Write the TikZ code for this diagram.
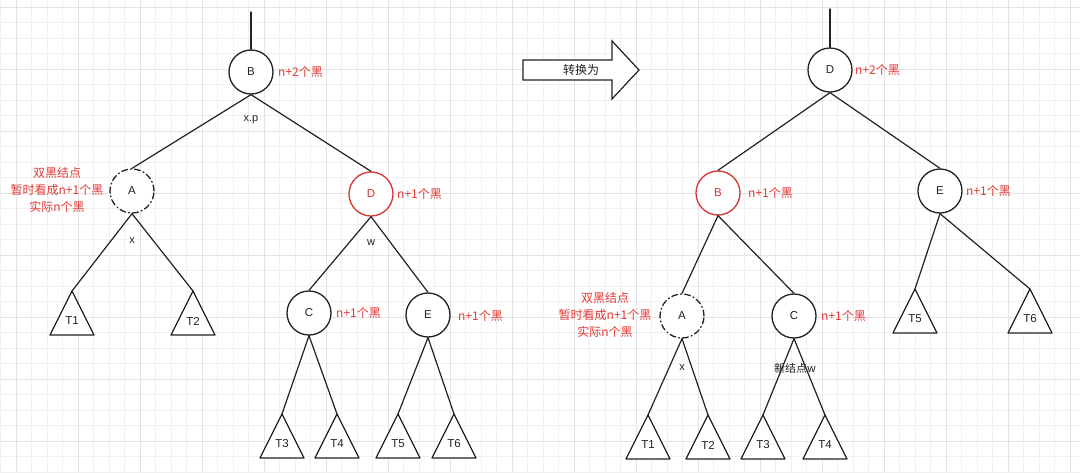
\documentclass[tikz,border=0pt]{standalone}
\usepackage{fontspec}
\setmainfont{Liberation Sans}
\newfontfamily\cjk{Noto Sans CJK SC}
\definecolor{gridminor}{HTML}{F0F0F0}
\definecolor{gridmajor}{HTML}{E3E3E3}
\definecolor{redline}{HTML}{D9342F}
\definecolor{redtext}{HTML}{E53935}
\definecolor{ink}{HTML}{222222}

% subtree triangle: name, apex x, apex y, label
\newcommand\subtri[4]{%
  \coordinate (#1) at (#2,#3);
  \draw[treeline,fill=white] (#1) -- ++(-22,44) -- ++(44,0) -- cycle;
  \node[leaf] (#1l) at (#2,#3+30) {#4};}

\begin{document}
\begin{tikzpicture}[x=1pt,y=-1pt,line cap=round,line join=round,
  treeline/.style={ink,line width=1.2pt},
  bnode/.style={circle,draw=ink,line width=1.3pt,fill=white,minimum size=44pt,inner sep=0pt,text=ink,font=\fontsize{11.5}{13}\selectfont},
  rnode/.style={bnode,draw=redline,text=redline},
  dnode/.style={bnode,dash pattern=on 6pt off 3pt on 1pt off 3pt},
  note/.style={text=redtext,font=\cjk\fontsize{12}{17}\selectfont,inner sep=0pt,align=center},
  elabel/.style={text=ink,font=\fontsize{11}{13}\selectfont,inner sep=0pt},
  leaf/.style={text=ink,font=\fontsize{11.5}{13}\selectfont,inner sep=0pt}]
\useasboundingbox (0,0) rectangle (1080,472);
\fill[white] (0,0) rectangle (1080,472);
% grid
\foreach \gx in {0,...,69} \draw[gridminor,line width=0.8pt] ({0.5+15.5*\gx},0) -- ++(0,472);
\foreach \gy in {0,...,30} \draw[gridminor,line width=0.8pt] (0,{7+15.5*\gy}) -- ++(1080,0);
\foreach \gx in {0,...,17} \draw[gridmajor,line width=0.9pt] ({16+62*\gx},0) -- ++(0,472);
\foreach \gy in {0,...,7} \draw[gridmajor,line width=0.9pt] (0,{7+62*\gy}) -- ++(1080,0);

% left tree
\coordinate (ltop) at (251,12);
\node[bnode] (lB) at (251,72) {B};
\node[dnode] (lA) at (132,191) {A};
\node[rnode] (lD) at (371,194) {D};
\node[bnode] (lC) at (309,313) {C};
\node[bnode] (lE) at (428,315) {E};
\draw[treeline] (ltop) -- (lB.north);
\draw[treeline] (lB.south) -- (lA.north);
\draw[treeline] (lB.south) -- (lD.north);
\subtri{lT1}{72}{291}{T1}
\subtri{lT2}{193}{291}{T2}
\subtri{lT3}{282}{414}{T3}
\subtri{lT4}{337}{414}{T4}
\subtri{lT5}{398}{414}{T5}
\subtri{lT6}{454}{414}{T6}
\draw[treeline] (lA.south) -- (lT1);
\draw[treeline] (lA.south) -- (lT2);
\draw[treeline] (lD.south) -- (lC.north);
\draw[treeline] (lD.south) -- (lE.north);
\draw[treeline] (lC.south) -- (lT3);
\draw[treeline] (lC.south) -- (lT4);
\draw[treeline] (lE.south) -- (lT5);
\draw[treeline] (lE.south) -- (lT6);
\node[note,anchor=west] (lBn) at (278,72) {n+2个黑};
\node[note,anchor=west] (lDn) at (397,194) {n+1个黑};
\node[note,anchor=west] (lCn) at (336,313) {n+1个黑};
\node[note,anchor=west] (lEn) at (458,316) {n+1个黑};
\node[note] (lAn) at (57,190) {双黑结点\\暂时看成n+1个黑\\实际n个黑};
\node[elabel] (lxp) at (251,120) {x.p};
\node[elabel] (lx) at (132,241) {x};
\node[elabel] (lw) at (371,243) {w};

% arrow
\draw[treeline,fill=white,line join=miter] (523,60) -- (612,60) -- (612,41) -- (639,70) -- (612,99) -- (612,80) -- (523,80) -- cycle;
\node[text=ink,font=\cjk\fontsize{12}{14}\selectfont,inner sep=0pt] (conv) at (581,70) {转换为};

% right tree
\coordinate (rtop) at (830,9);
\node[bnode] (rD) at (830,70) {D};
\node[rnode] (rB) at (718,193) {B};
\node[bnode] (rE) at (940,191) {E};
\node[dnode] (rA) at (682,316) {A};
\node[bnode] (rC) at (794,316) {C};
\draw[treeline] (rtop) -- (rD.north);
\draw[treeline] (rD.south) -- (rB.north);
\draw[treeline] (rD.south) -- (rE.north);
\draw[treeline] (rB.south) -- (rA.north);
\draw[treeline] (rB.south) -- (rC.north);
\subtri{rT1}{648}{415}{T1}
\subtri{rT2}{708}{415}{T2}
\subtri{rT3}{763}{415}{T3}
\subtri{rT4}{825}{415}{T4}
\subtri{rT5}{915}{289}{T5}
\subtri{rT6}{1030}{289}{T6}
\draw[treeline] (rA.south) -- (rT1);
\draw[treeline] (rA.south) -- (rT2);
\draw[treeline] (rC.south) -- (rT3);
\draw[treeline] (rC.south) -- (rT4);
\draw[treeline] (rE.south) -- (rT5);
\draw[treeline] (rE.south) -- (rT6);
\node[note,anchor=west] (rDn) at (855,70) {n+2个黑};
\node[note,anchor=west] (rBn) at (748,193) {n+1个黑};
\node[note,anchor=west] (rEn) at (966,191) {n+1个黑};
\node[note,anchor=west] (rCn) at (821,316) {n+1个黑};
\node[note] (rAn) at (605,315) {双黑结点\\暂时看成n+1个黑\\实际n个黑};
\node[elabel] (rx) at (682,368) {x};
\node[elabel,font=\cjk\fontsize{11}{13}\selectfont] (rw) at (795,368) {新结点w};
\end{tikzpicture}
\end{document}
